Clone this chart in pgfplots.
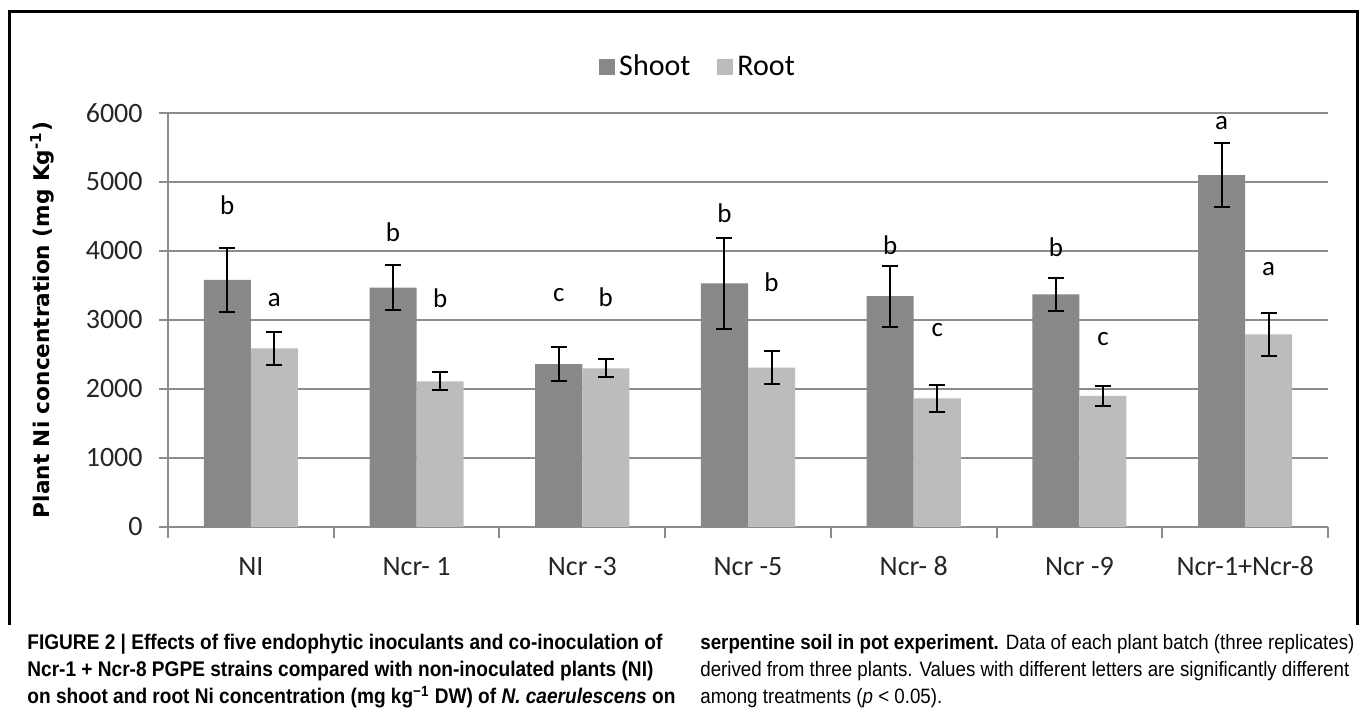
\documentclass[border=0pt]{standalone}
\usepackage{pgfplots}
\usepackage{pgfplotstable}
\pgfplotsset{compat=1.18}
\usepackage{fontspec}
\setmainfont{Carlito}
\newfontfamily\ylfont{DejaVu Sans}
\newfontfamily\capfont[FakeStretch=0.9]{Liberation Sans}

\definecolor{shootgray}{RGB}{136,136,136}
\definecolor{rootgray}{RGB}{188,188,188}
\definecolor{gridgray}{RGB}{140,140,140}

% x shoot shooterr root rooterr  (mg/kg)
\pgfplotstableread{
x shoot shooterr root rooterr
0 3580 460 2590 240
1 3470 320 2110 130
2 2360 245 2300 130
3 3530 660 2310 240
4 3345 440 1865 200
5 3370 245 1900 145
6 5100 460 2790 310
}\nidata

\begin{document}
\begin{tikzpicture}[x=1pt,y=1pt]
\path[use as bounding box, fill=white] (0,0) rectangle (680,358);
\draw[line width=1.5pt] (4.5,45.5) -- (4.5,352) -- (678.5,352) -- (678.5,45.5);

\begin{axis}[
  at={(84pt,94.5pt)}, anchor=south west,
  scale only axis, width=580pt, height=207pt,
  xmin=-0.5, xmax=6.5, ymin=0, ymax=6000,
  axis x line=bottom, axis y line=left,
  axis line style={-, gridgray, line width=1pt},
  ytick={0,1000,...,6000},
  ymajorgrids, grid style={gridgray, line width=0.8pt},
  xtick={0,...,6},
  xticklabels={NI, Ncr- 1, Ncr -3, Ncr -5, Ncr- 8, Ncr -9, Ncr-1+Ncr-8},
  minor xtick={-0.5,0.5,...,6.5},
  major x tick style={draw=none},
  minor x tick style={gridgray, line width=1pt},
  major y tick style={gridgray, line width=1pt},
  tick align=outside,
  major tick length=4.5pt, minor tick length=5.5pt,
  /pgf/number format/assume math mode=true,
  /pgf/number format/1000 sep={},
  ticklabel style={font=\fontsize{14}{14}\selectfont, text=black!85},
  yticklabel style={inner sep=0pt, xshift=-8pt},
  xticklabel style={font=\fontsize{14}{15}\selectfont, text height=10pt,
    text depth=3pt, yshift=-6pt},
  ylabel={\ylfont\bfseries Plant Ni concentration (mg Kg\textsuperscript{-1})},
  ylabel style={at={(axis description cs:-0.1086,0.5)}, anchor=center,
    font=\fontsize{10.8}{12}\selectfont},
  legend columns=2,
  legend style={at={(axis description cs:0.4578,1.111)}, anchor=center,
    draw=none, fill=none, font=\fontsize{15}{15}\selectfont,
    /tikz/every even column/.append style={column sep=11.5pt}},
  legend image code/.code={\fill[#1] (0pt,-4pt) rectangle (8pt,4pt);},
  clip=false,
]
\addplot[ybar, bar width=0.284, bar shift=0, fill=shootgray, draw=none,
  error bars/.cd, y dir=both, y explicit,
  error bar style={black, line width=1pt},
  error mark options={black, rotate=90, mark size=4pt, line width=1pt}]
  table[x expr=\thisrow{x}-0.142, y=shoot, y error=shooterr]{\nidata};
\addlegendentry{Shoot}
\addplot[ybar, bar width=0.284, bar shift=0, fill=rootgray, draw=none,
  error bars/.cd, y dir=both, y explicit,
  error bar style={black, line width=1pt},
  error mark options={black, rotate=90, mark size=4pt, line width=1pt}]
  table[x expr=\thisrow{x}+0.142, y=root, y error=rooterr]{\nidata};
\addlegendentry{Root}

% significance letters
\begin{scope}[every node/.style={font=\fontsize{13.5}{13.5}\selectfont}]
\node at (axis cs:-0.142,4660) {b};
\node at (axis cs:0.142,3290) {a};
\node at (axis cs:0.858,4275) {b};
\node at (axis cs:1.142,3320) {b};
\node at (axis cs:1.858,3362) {c};
\node at (axis cs:2.142,3333) {b};
\node at (axis cs:2.858,4550) {b};
\node at (axis cs:3.142,3550) {b};
\node at (axis cs:3.858,4087) {b};
\node at (axis cs:4.142,2855) {c};
\node at (axis cs:4.858,4058) {b};
\node at (axis cs:5.142,2725) {c};
\node at (axis cs:5.858,5855) {a};
\node at (axis cs:6.142,3739) {a};
\end{scope}
\end{axis}

% caption, left column
\begin{scope}[every node/.style={anchor=base west, inner sep=0pt,
    font=\capfont\fontsize{10.6}{11}\selectfont}]
\node at (13.5,33) {\textbf{FIGURE 2 | Effects of five endophytic inoculants and co-inoculation of}};
\node at (13.5,19.5) {\textbf{Ncr-1 + Ncr-8 PGPE strains compared with non-inoculated plants (NI)}};
\node at (13.5,6) {\textbf{on shoot and root Ni concentration (mg kg\textsuperscript{−1} DW) of \textit{N. caerulescens} on}};
\end{scope}
% caption, right column
\begin{scope}[every node/.style={anchor=base west, inner sep=0pt,
    font=\capfont\fontsize{10.4}{11}\selectfont}]
\node at (350,33) {\textbf{serpentine soil in pot experiment.} Data of each plant batch (three replicates)};
\node at (350,19.5) {derived from three plants. Values with different letters are significantly different};
\node at (350,6) {among treatments (\textit{p} < 0.05).};
\end{scope}
\end{tikzpicture}
\end{document}
